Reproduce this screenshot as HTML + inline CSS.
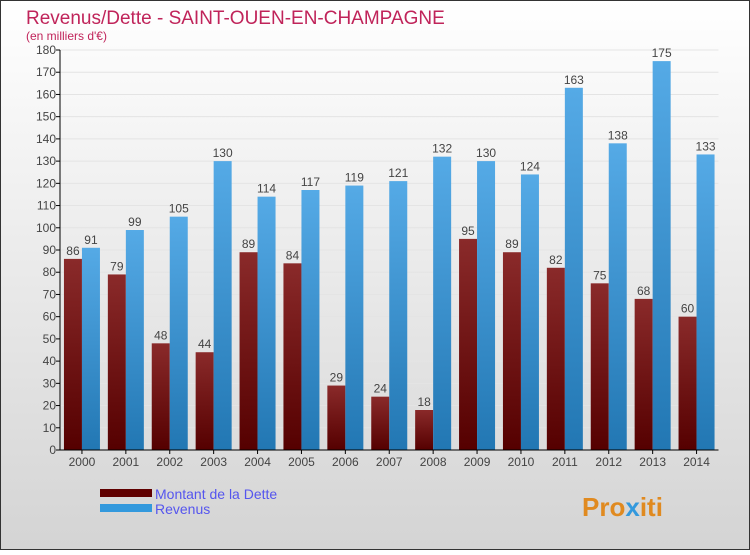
<!DOCTYPE html>
<html><head><meta charset="utf-8"><style>
body{margin:0;width:750px;height:550px;overflow:hidden;font-family:"Liberation Sans",sans-serif}
</style></head><body>
<svg width="750" height="550" viewBox="0 0 750 550" xmlns="http://www.w3.org/2000/svg">
<defs>
<linearGradient id="bg" x1="0" y1="0" x2="0" y2="1"><stop offset="0" stop-color="#ffffff"/><stop offset="1" stop-color="#d4d4d4"/></linearGradient>
<linearGradient id="gd" x1="0" y1="0" x2="0" y2="1"><stop offset="0" stop-color="#8a2a2a"/><stop offset="1" stop-color="#550000"/></linearGradient>
<linearGradient id="gr" x1="0" y1="0" x2="0" y2="1"><stop offset="0" stop-color="#55aae6"/><stop offset="1" stop-color="#2277b3"/></linearGradient>
</defs>
<rect x="0.5" y="0.5" width="749" height="549" fill="url(#bg)" stroke="#333"/>
<text x="26" y="24" font-size="19" fill="#c0245a">Revenus/Dette - SAINT-OUEN-EN-CHAMPAGNE</text>
<text x="26" y="40" font-size="12" fill="#c0245a">(en milliers d'€)</text>
<g id="grid"></g><g id="bars"></g><g id="axes"></g>
<g>
<rect x="100" y="489" width="52" height="8" fill="#600000"/>
<text x="155" y="499" font-size="14" fill="#5555ee">Montant de la Dette</text>
<rect x="100" y="504" width="52" height="8" fill="#3399dd"/>
<text x="155" y="514" font-size="14" fill="#5555ee">Revenus</text>
</g>
<text x="582" y="516" font-size="26" font-weight="bold" fill="#e08a20">Pro<tspan fill="#3399dd">x</tspan>iti</text>
</svg>
<script>
const years=["2000","2001","2002","2003","2004","2005","2006","2007","2008","2009","2010","2011","2012","2013","2014"];
const dette=[86,79,48,44,89,84,29,24,18,95,89,82,75,68,60];
const revenus=[91,99,105,130,114,117,119,121,132,130,124,163,138,175,133];
const yTicks=[0,10,20,30,40,50,60,70,80,90,100,110,120,130,140,150,160,170,180];
const NS="http://www.w3.org/2000/svg";
const x0=60,slot=43.9,bw=18,y0=450,ymax=180,ph=400;
const Y=v=>y0-v/ymax*ph;
const X=i=>x0+slot*i+slot/2;
function mk(t,a,p){const e=document.createElementNS(NS,t);for(const k in a)e.setAttribute(k,a[k]);p.appendChild(e);return e;}
const grid=document.getElementById('grid'),bars=document.getElementById('bars'),axes=document.getElementById('axes');
yTicks.forEach(v=>{
 const l=mk('line',{x1:x0,x2:x0+slot*years.length,y1:Y(v),y2:Y(v),stroke:'#e4e4e4'},grid);
 
 
 const tk=mk('line',{x1:x0-4,x2:x0,y1:Y(v),y2:Y(v),stroke:'#000'},axes);
 
 
 const t=mk('text',{x:x0-4,y:Y(v)+4,'font-size':12,'text-anchor':'end',fill:'#444'},axes);
 t.textContent=v;
 
 
});
years.forEach((yr,i)=>{
 const c=X(i);
 const b1=mk('rect',{x:c-bw,y:Y(dette[i]),width:bw,height:y0-Y(dette[i]),fill:'url(#gd)'},bars);
 
 
 const b2=mk('rect',{x:c,y:Y(revenus[i]),width:bw,height:y0-Y(revenus[i]),fill:'url(#gr)'},bars);
 
 
 const t1=mk('text',{x:c-bw/2,y:Y(dette[i])-4,'font-size':12,'text-anchor':'middle',fill:'#444'},bars);
 t1.textContent=dette[i];
 
 
 const t2=mk('text',{x:c+bw/2,y:Y(revenus[i])-4,'font-size':12,'text-anchor':'middle',fill:'#444'},bars);
 t2.textContent=revenus[i];
 
 
 const xt=mk('line',{x1:c,x2:c,y1:y0,y2:y0+4,stroke:'#000'},axes);
 
 
 const xl=mk('text',{x:c,y:y0+16,'font-size':12,'text-anchor':'middle',fill:'#444'},axes);
 xl.textContent=yr;
 
 
});
const ya=mk('line',{x1:x0,x2:x0,y1:Y(180),y2:y0,stroke:'#000'},axes);


const xa=mk('line',{x1:x0,x2:x0+slot*years.length,y1:y0,y2:y0,stroke:'#000'},axes);


</script>
</body></html>
